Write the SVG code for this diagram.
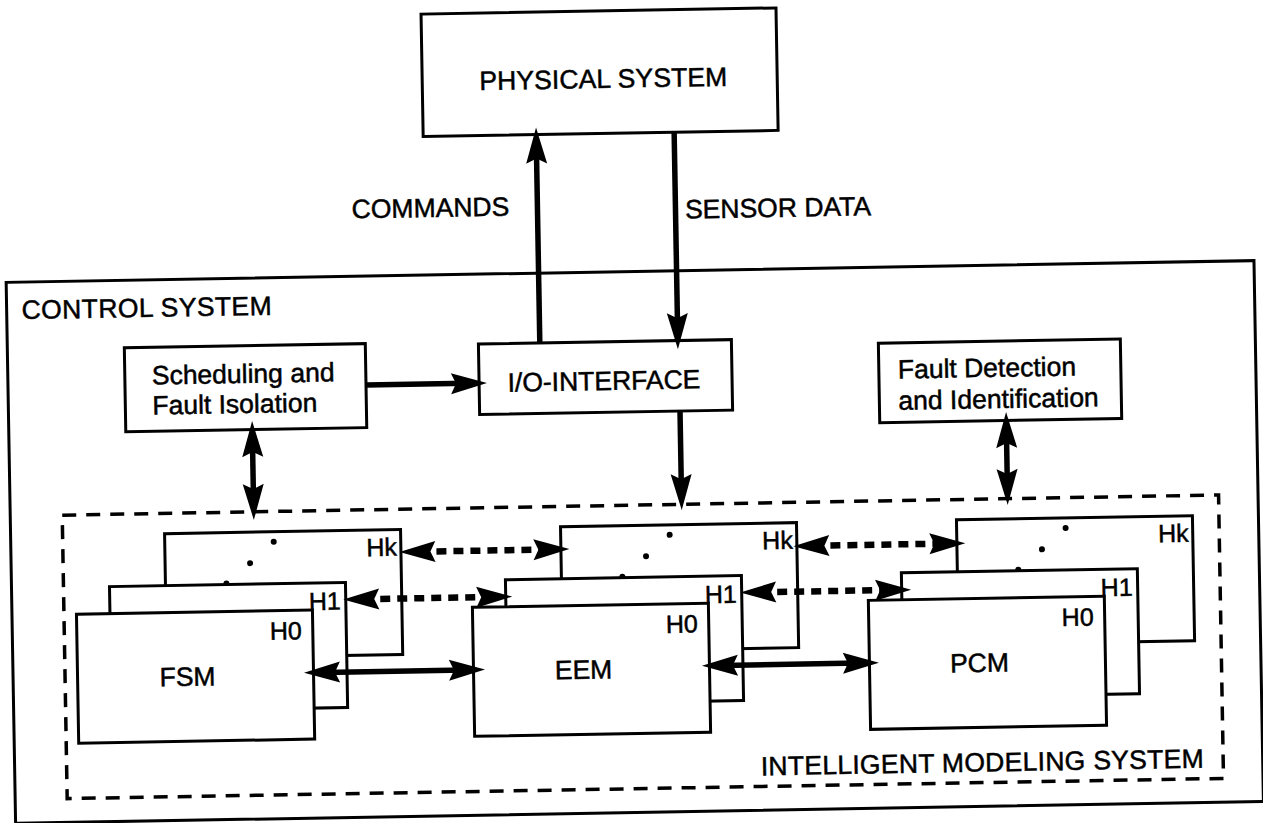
<svg xmlns="http://www.w3.org/2000/svg" width="1263" height="823" viewBox="0 0 1263 823">
<defs>
<style>
text{font-family:"Liberation Sans",Arial,Helvetica,sans-serif;fill:#000;stroke:#000;stroke-width:0.5}
.t{font-size:26.5px}
.h{font-size:25px}
.b{fill:#fff;stroke:#000;stroke-width:3}
.o{fill:none;stroke:#000;stroke-width:3}
.d{fill:none;stroke:#000;stroke-width:3.5;stroke-dasharray:14 10}
.s{fill:none;stroke:#000;stroke-width:5.5}
.k{fill:none;stroke:#000;stroke-width:6.5;stroke-dasharray:10 7}
.dot{fill:#000}
</style>
<marker id="ah" markerUnits="userSpaceOnUse" viewBox="0 -12 38 24" markerWidth="38" markerHeight="24" refX="16" refY="0" orient="auto-start-reverse" overflow="visible">
<path d="M0,-10.5 L36,0 L0,10.5 L5,0 Z" fill="#000"/>
</marker>
</defs>
<rect width="1263" height="823" fill="#fff"/>
<g transform="rotate(-1 631 411)">
<g id="control-system">
<rect class="o" x="8.5" y="271.5" width="1248" height="541"/>
<text class="t" x="23.5" y="308.5" textLength="250">CONTROL SYSTEM</text>
</g>
<g id="physical-system">
<rect class="b" x="428" y="10.5" width="355" height="122.5"/>
<text class="t" x="609" y="87.5" text-anchor="middle" textLength="248">PHYSICAL SYSTEM</text>
</g>
<g id="scheduling">
<rect class="b" x="125.5" y="339" width="241" height="84"/>
<text class="t" x="152.5" y="376.2">Scheduling and</text>
<text class="t" x="152.5" y="406.2">Fault Isolation</text>
</g>
<g id="io-interface">
<rect class="b" x="479.6" y="341.4" width="253" height="70.5"/>
<text class="t" x="604.5" y="389.5" text-anchor="middle">I/O-INTERFACE</text>
</g>
<g id="fault-detection">
<rect class="b" x="879.5" y="347.5" width="242" height="79.5"/>
<text class="t" x="898.5" y="383.2">Fault Detection</text>
<text class="t" x="898.5" y="414.5">and Identification</text>
</g>
<g id="intelligent-modeling-system">
<rect class="d" x="60.5" y="505.2" width="1156.5" height="283.5"/>
<text class="t" x="976" y="777.6" text-anchor="middle" textLength="443">INTELLIGENT MODELING SYSTEM</text>
</g>
<g id="fsm">
<g id="fsm-hk"><rect class="b" x="162.5" y="525.5" width="236" height="125"/>
<circle class="dot" cx="271.5" cy="535.5" r="3"/><circle class="dot" cx="247.5" cy="556.5" r="3"/><circle class="dot" cx="223.5" cy="576.5" r="3"/></g>
<g id="fsm-h1"><rect class="b" x="106.5" y="577.5" width="236" height="125"/></g>
<g id="fsm-h0"><rect class="b" x="73" y="604.5" width="236" height="129"/></g>
<text class="h" x="394.5" y="551.5" text-anchor="end">Hk</text>
<text class="h" x="337.5" y="604.5" text-anchor="end">H1</text>
<text class="h" x="298" y="633.5" text-anchor="end">H0</text>
<text class="t" x="183" y="678" text-anchor="middle">FSM</text>
</g>
<g id="eem" transform="translate(396 0)">
<g id="eem-hk"><rect class="b" x="162.5" y="525.5" width="236" height="125"/>
<circle class="dot" cx="271.5" cy="535.5" r="3"/><circle class="dot" cx="247.5" cy="556.5" r="3"/><circle class="dot" cx="223.5" cy="576.5" r="3"/></g>
<g id="eem-h1"><rect class="b" x="106.5" y="577.5" width="236" height="125"/></g>
<g id="eem-h0"><rect class="b" x="73" y="604.5" width="236" height="129"/></g>
<text class="h" x="394.5" y="551.5" text-anchor="end">Hk</text>
<text class="h" x="337.5" y="604.5" text-anchor="end">H1</text>
<text class="h" x="298" y="633.5" text-anchor="end">H0</text>
<text class="t" x="183" y="678" text-anchor="middle">EEM</text>
</g>
<g id="pcm" transform="translate(792 0)">
<g id="pcm-hk"><rect class="b" x="162.5" y="525.5" width="236" height="125"/>
<circle class="dot" cx="271.5" cy="535.5" r="3"/><circle class="dot" cx="247.5" cy="556.5" r="3"/><circle class="dot" cx="223.5" cy="576.5" r="3"/></g>
<g id="pcm-h1"><rect class="b" x="106.5" y="577.5" width="236" height="125"/></g>
<g id="pcm-h0"><rect class="b" x="73" y="604.5" width="236" height="129"/></g>
<text class="h" x="394.5" y="551.5" text-anchor="end">Hk</text>
<text class="h" x="337.5" y="604.5" text-anchor="end">H1</text>
<text class="h" x="298" y="633.5" text-anchor="end">H0</text>
<text class="t" x="183" y="678" text-anchor="middle">PCM</text>
</g>
<g id="connectors">
<line class="s" x1="541" y1="342" x2="541" y2="146" marker-end="url(#ah)"/>
<text class="t" x="434" y="213.5" text-anchor="middle">COMMANDS</text>
<line class="s" x1="679" y1="133" x2="679" y2="330" marker-end="url(#ah)"/>
<text class="t" x="688.5" y="219.5">SENSOR DATA</text>
<line class="s" x1="680" y1="412" x2="680" y2="491" marker-end="url(#ah)"/>
<line class="s" x1="366.5" y1="380.5" x2="467.5" y2="380.5" marker-end="url(#ah)"/>
<line class="s" x1="252" y1="434.4" x2="252" y2="493.4" marker-start="url(#ah)" marker-end="url(#ah)"/>
<line class="s" x1="1006" y1="438.6" x2="1006" y2="491.6" marker-start="url(#ah)" marker-end="url(#ah)"/>
<line class="k" x1="417" y1="548" x2="547" y2="548" marker-start="url(#ah)" marker-end="url(#ah)"/>
<line class="k" x1="811" y1="549" x2="943" y2="549" marker-start="url(#ah)" marker-end="url(#ah)"/>
<line class="k" x1="360" y1="594.5" x2="489" y2="594.5" marker-start="url(#ah)" marker-end="url(#ah)"/>
<line class="k" x1="757" y1="594.5" x2="888" y2="594.5" marker-start="url(#ah)" marker-end="url(#ah)"/>
<line class="s" x1="319.5" y1="667" x2="460.5" y2="667" marker-start="url(#ah)" marker-end="url(#ah)"/>
<line class="s" x1="717.5" y1="667" x2="854.5" y2="667" marker-start="url(#ah)" marker-end="url(#ah)"/>
</g>
</g>
</svg>
